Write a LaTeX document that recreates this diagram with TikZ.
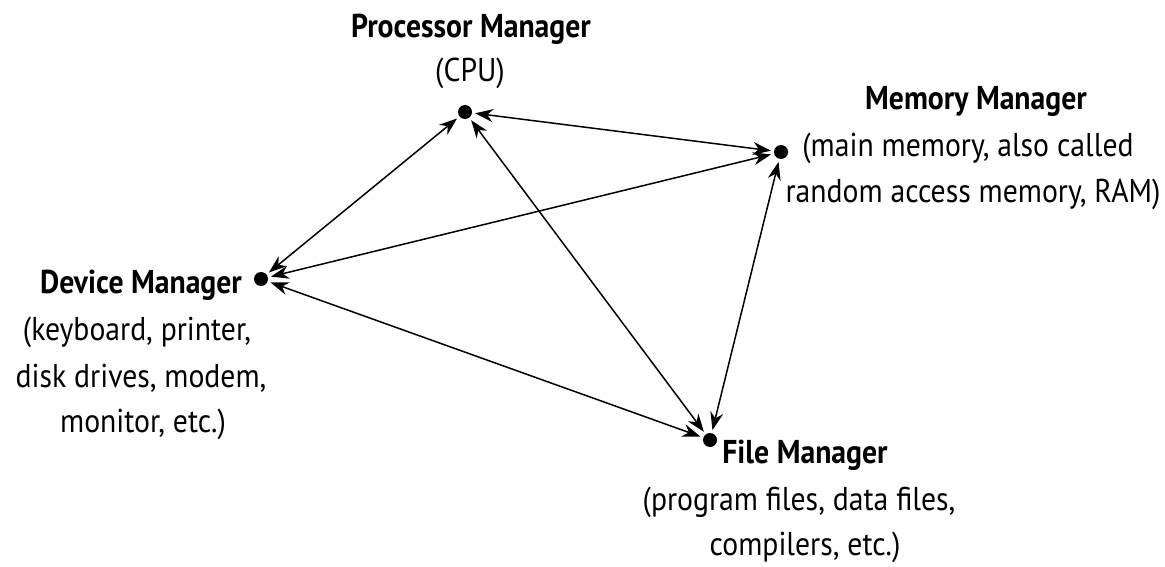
\documentclass[tikz,border=0pt]{standalone}
\usepackage{fontspec}
\setmainfont[FakeStretch=0.9]{PT Sans}
\usetikzlibrary{arrows.meta}
\begin{document}
\begin{tikzpicture}[x=1pt,y=-1pt,
  dot/.style={circle,fill=black,inner sep=0pt,minimum size=14pt},
  link/.style={{Stealth[length=18pt,width=13pt]}-{Stealth[length=18pt,width=13pt]},line width=1.5pt,shorten <=3pt,shorten >=3pt},
  head/.style={anchor=base,inner sep=0pt,font=\fontsize{33}{40}\selectfont\bfseries},
  body/.style={anchor=base,inner sep=0pt,font=\fontsize{33}{40}\selectfont}]
\useasboundingbox (0,0) rectangle (1165,567);
% managers
\node[dot] (proc) at (465,112) {};
\node[dot] (mem)  at (781,152) {};
\node[dot] (dev)  at (261,279) {};
\node[dot] (file) at (710,440) {};
% labels
\node[head] (procA) at (471,38) {Processor Manager};
\node[body] (procB) at (470,82) {(CPU)};
\node[head] (memA) at (976,110) {Memory Manager};
\node[body] (memB) at (968,157) {(main memory, also called};
\node[body] (memC) at (973,203) {random access memory, RAM)};
\node[head] (devA) at (141,293) {Device Manager};
\node[body] (devB) at (137,340) {(keyboard, printer,};
\node[body] (devC) at (141,387) {disk drives, modem,};
\node[body] (devD) at (143,432) {monitor, etc.)};
\node[head] (fileA) at (805,463) {File Manager};
\node[body] (fileB) at (799,510) {(program files, data files,};
\node[body] (fileC) at (805,555) {compilers, etc.)};
% connections
\draw[link] (proc) -- (mem);
\draw[link] (proc) -- (dev);
\draw[link] (proc) -- (file);
\draw[link] (mem) -- (dev);
\draw[link] (mem) -- (file);
\draw[link] (dev) -- (file);
\end{tikzpicture}
\end{document}
